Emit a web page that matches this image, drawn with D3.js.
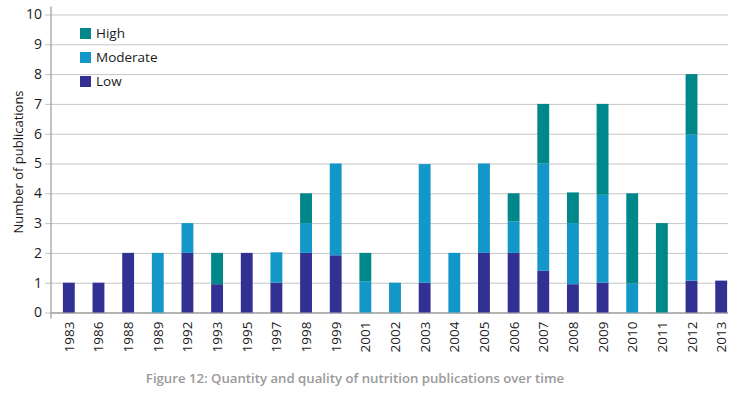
<!DOCTYPE html>
<html>
<head>
<meta charset="utf-8">
<script src="https://cdn.jsdelivr.net/npm/d3@7"></script>
<style>
	body { margin: 0; background: #fff; }
	text { font-family: "Open Sans", sans-serif; }
</style>
</head>
<body>
<div id="chart"></div>
<script>
// Stacked bars: quality of nutrition publications per year

let years = ["1983", "1986", "1988", "1989", "1992", "1993", "1995", "1997", "1998", "1999", "2001", "2002",
	"2003", "2004", "2005", "2006", "2007", "2008", "2009", "2010", "2011", "2012", "2013"];
let low = [1, 1, 2, 0, 2, 0.95, 2, 1, 2, 1.92, 0, 0, 1, 0, 2, 2, 1.4, 0.95, 1, 0, 0, 1.07, 1.07];
let moderate = [0, 0, 0, 2, 1, 0, 0, 1.02, 1, 3.08, 1.05, 1, 3.98, 2, 3, 1.05, 3.6, 2.05, 2.95, 0.97, 0, 4.9, 0];
let high = [0, 0, 0, 0, 0, 1.05, 0, 0, 1, 0, 0.95, 0, 0, 0, 0, 0.95, 2, 1.03, 3.05, 3.03, 3, 2.03, 0];
let levels = ["Low", "Moderate", "High"];
let yTicks = [0, 1, 2, 3, 4, 5, 6, 7, 8, 9, 10];
let caption = "Figure 12: Quantity and quality of nutrition publications over time";

let width = 745, height = 398;
let colours = { Low: "#323092", Moderate: "#1396c8", High: "#00878a" };

let svg = d3.select("#chart").append("svg")
	.attr("width", width)
	.attr("height", height);

// Build rows for the stack
let rows = years.map((yr, i) => ({ year: yr, Low: low[i], Moderate: moderate[i], High: high[i] }));
let series = d3.stack().keys(levels)(rows);

let x = d3.scaleBand()
	.domain(years)
	.range([54, 736])
	.paddingInner(0.6)
	.paddingOuter(0.3);

let y = d3.scaleLinear()
	.domain([0, 10])
	.range([312.5, 14.5]);

let axisLeftX = 51;
let gridRight = x(years[years.length - 1]) + x.bandwidth() + 1;

// Gridlines and y tick labels
let yAxis = svg.append("g")
	.attr("transform", "translate(" + axisLeftX + ",0)")
	.call(d3.axisLeft(y).tickValues(yTicks).tickSize(6).tickPadding(3).tickFormat(d3.format("d")));
yAxis.select(".domain").remove();
yAxis.selectAll(".tick line").attr("stroke", "#c6c6c6");
yAxis.selectAll(".tick").append("line")
	.attr("x2", gridRight - axisLeftX)
	.attr("stroke", (d) => d === 0 ? "#9a9a9a" : "#c6c6c6")
	.attr("stroke-width", (d) => d === 0 ? 1.5 : 1);
yAxis.selectAll(".tick text")
	.attr("fill", "#1a1a1a")
	.style("font-size", "14px");

// Bars
svg.append("g").selectAll("g")
	.data(series)
	.enter().append("g")
	.attr("fill", (d) => colours[d.key])
	.selectAll("rect")
	.data((d) => d)
	.enter().append("rect")
	.attr("x", (d) => x(d.data.year))
	.attr("width", x.bandwidth())
	.attr("y", (d) => y(d[1]))
	.attr("height", (d) => y(d[0]) - y(d[1]));

// Vertical axis line
svg.append("line")
	.attr("x1", axisLeftX).attr("x2", axisLeftX)
	.attr("y1", y(10) - 8).attr("y2", y(0) + 6)
	.attr("stroke", "#9a9a9a")
	.attr("stroke-width", 1.2);

// Year labels, rotated
svg.append("g").selectAll("text")
	.data(years)
	.enter().append("text")
	.attr("transform", (d) => "translate(" + (x(d) + x.bandwidth() / 2 + 5) + "," + (y(0) + 9) + ") rotate(-90)")
	.attr("text-anchor", "end")
	.attr("fill", "#1a1a1a")
	.style("font-size", "13.5px")
	.text((d) => d);

// Y axis title
svg.append("text")
	.attr("transform", "translate(23,162) rotate(-90)")
	.attr("text-anchor", "middle")
	.attr("fill", "#1a1a1a")
	.style("font-size", "13px")
	.text("Number of publications");

// Legend, High on top
let legend = svg.append("g").selectAll("g")
	.data(levels.slice().reverse())
	.enter().append("g")
	.attr("transform", (d, i) => "translate(80," + (28 + i * 24) + ")");
legend.append("rect")
	.attr("width", 11)
	.attr("height", 11)
	.attr("fill", (d) => colours[d]);
legend.append("text")
	.attr("x", 16)
	.attr("y", 10)
	.attr("fill", "#1a1a1a")
	.style("font-size", "13.5px")
	.text((d) => d);

// Caption
svg.append("text")
	.attr("x", 355)
	.attr("y", 383)
	.attr("text-anchor", "middle")
	.attr("fill", "#9a9a9a")
	.style("font-size", "13.2px")
	.style("font-weight", "600")
	.text(caption);
</script>
</body>
</html>
